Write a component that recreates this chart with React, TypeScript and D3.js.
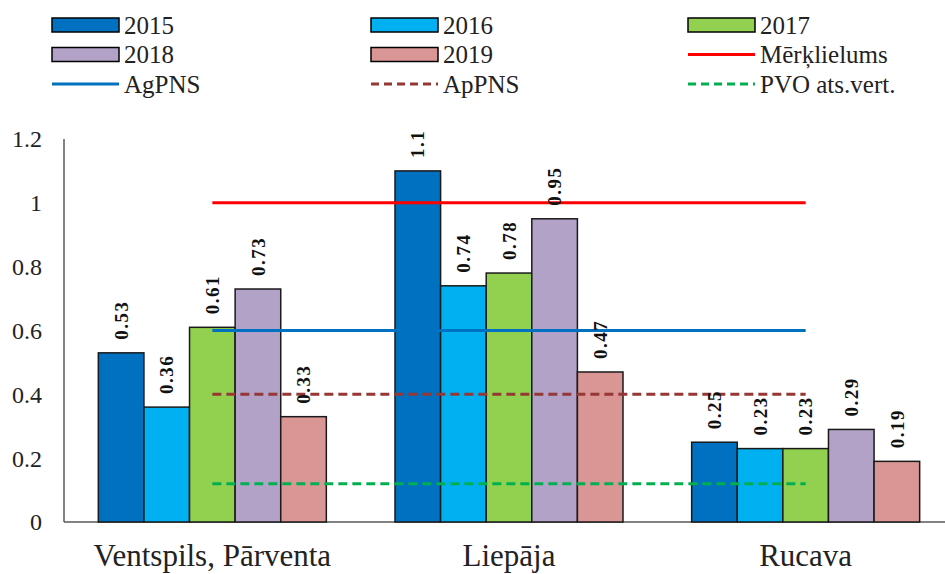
import React from 'react';
import * as d3 from 'd3';

const categories = ['Ventspils, Pārventa', 'Liepāja', 'Rucava'];
const years = ['2015', '2016', '2017', '2018', '2019'];
const values2015 = [0.53, 1.1, 0.25];
const values2016 = [0.36, 0.74, 0.23];
const values2017 = [0.61, 0.78, 0.23];
const values2018 = [0.73, 0.95, 0.29];
const values2019 = [0.33, 0.47, 0.19];
const yTicks = [0, 0.2, 0.4, 0.6, 0.8, 1, 1.2];

// reference levels
const refNames = ['Mērķlielums', 'AgPNS', 'ApPNS', 'PVO ats.vert.'];
const refValues = [1, 0.6, 0.4, 0.12];

const barColors = ['#0070C0', '#00B0F0', '#92D050', '#B3A2C7', '#D99694'];
const refColors = ['#FF0000', '#0070C0', '#953735', '#00B050'];
const refDash = ['none', 'none', '9,5', '9,5'];

const FONT = 'Liberation Serif, serif';
const W = 945;
const H = 574;

const App = () => {
  const series = [values2015, values2016, values2017, values2018, values2019];
  const margin = { left: 64, top: 139, bottom: 522 };

  const x0 = d3.scaleBand<string>().domain(categories).range([margin.left, 954]).padding(0);
  const groupW = 228;
  const x1 = d3.scaleBand<string>().domain(years).range([0, groupW]).padding(0);
  const groupOff = (x0.bandwidth() - groupW) / 2;
  const y = d3.scaleLinear().domain([0, 1.2]).range([margin.bottom, margin.top]);

  const c0 = (x0(categories[0]) as number) + x0.bandwidth() / 2;
  const c2 = (x0(categories[2]) as number) + x0.bandwidth() / 2;

  // legend layout: 3 columns x 3 rows
  const legendItems = [
    ...years.map((yr, i) => ({ name: yr, kind: 'bar', color: barColors[i], dash: 'none' })),
    ...refNames.map((n, i) => ({ name: n, kind: 'line', color: refColors[i], dash: refDash[i] })),
  ];
  const colX = [52, 371, 688];
  const rowY = [25, 54.5, 84];

  return (
    <svg width={W} height={H} style={{ position: 'absolute', left: 0, top: 0, background: '#fff' }}>
      {/* legend */}
      {legendItems.map((it, i) => {
        const lx = colX[i % 3];
        const ly = rowY[Math.floor(i / 3)];
        return (
          <g key={it.name}>
            {it.kind === 'bar' ? (
              <rect x={lx} y={ly - 7} width={67} height={14} fill={it.color} stroke="#000" strokeWidth={1.5} />
            ) : (
              <line x1={lx} x2={lx + 67} y1={ly} y2={ly} stroke={it.color} strokeWidth={3}
                strokeDasharray={it.dash === 'none' ? undefined : '8,5'} />
            )}
            <text x={lx + 72} y={ly} dy="0.35em" fontSize={25} fill="#222" style={{ fontFamily: FONT }}>{it.name}</text>
          </g>
        );
      })}

      {/* axes */}
      <line x1={margin.left} x2={margin.left} y1={margin.top} y2={margin.bottom} stroke="#595959" strokeWidth={1.5} />
      <line x1={margin.left} x2={W} y1={margin.bottom} y2={margin.bottom} stroke="#595959" strokeWidth={1.5} />
      {yTicks.map(t => (
        <text key={t} x={42} y={y(t)} dy="0.35em" textAnchor="end" fontSize={24} fill="#222" style={{ fontFamily: FONT }}>{String(t)}</text>
      ))}
      {categories.map(c => (
        <text key={c} x={(x0(c) as number) + x0.bandwidth() / 2} y={566} textAnchor="middle" fontSize={31} fill="#222" style={{ fontFamily: FONT }}>{c}</text>
      ))}

      {/* bars */}
      {series.map((vals, si) => vals.map((v, ci) => {
        const bx = (x0(categories[ci]) as number) + groupOff + (x1(years[si]) as number);
        return (
          <rect key={`${si}-${ci}`} x={bx} y={y(v)} width={x1.bandwidth()} height={y(0) - y(v)}
            fill={barColors[si]} stroke="#1a1a1a" strokeWidth={1.5} />
        );
      }))}

      {/* reference lines */}
      {refValues.map((v, i) => (
        <line key={refNames[i]} x1={c0} x2={c2} y1={y(v)} y2={y(v)} stroke={refColors[i]} strokeWidth={3}
          strokeDasharray={refDash[i] === 'none' ? undefined : refDash[i]} />
      ))}

      {/* value labels */}
      {series.map((vals, si) => vals.map((v, ci) => {
        const cx = (x0(categories[ci]) as number) + groupOff + (x1(years[si]) as number) + x1.bandwidth() / 2;
        const ty = y(v) - 13;
        return (
          <text key={`l${si}-${ci}`} transform={`translate(${cx},${ty}) rotate(-90)`} dy="0.35em"
            fontSize={19} fontWeight="bold" letterSpacing={1.5} fill="#111" style={{ fontFamily: FONT }}>{String(v)}</text>
        );
      }))}
    </svg>
  );
};

export default App;
